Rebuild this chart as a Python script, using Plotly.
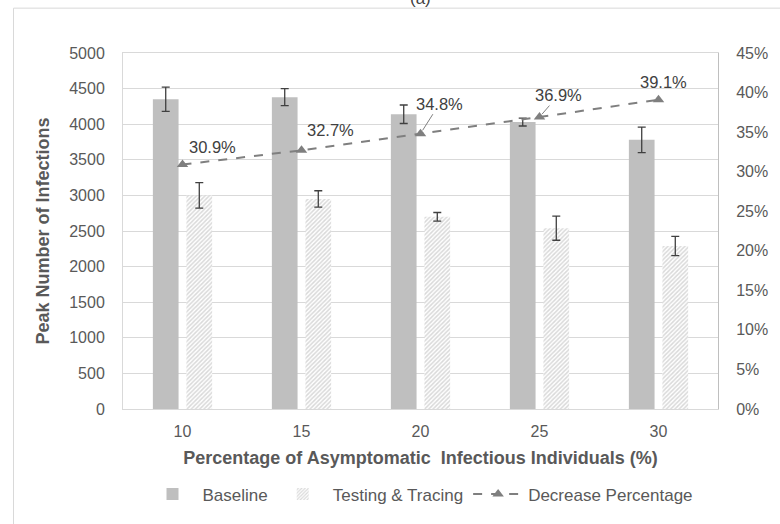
import plotly.graph_objects as go

# data
categories = ["10", "15", "20", "25", "30"]
baseline = [4350, 4380, 4140, 4030, 3780]
baseline_err = [170, 120, 130, 55, 180]
testing = [3000, 2950, 2700, 2540, 2290]
testing_err = [180, 115, 60, 170, 135]
decrease = [0.309, 0.327, 0.348, 0.369, 0.391]
decrease_labels = ["30.9%", "32.7%", "34.8%", "36.9%", "39.1%"]

TEXT = "#595959"
GRID = "#D9D9D9"
FONT = "Liberation Sans, Arial, sans-serif"

fig = go.Figure()

fig.add_trace(go.Bar(
    x=categories, y=baseline, name="Baseline",
    marker=dict(color="#BFBFBF", line=dict(width=0)),
    error_y=dict(type="data", array=baseline_err, color="#404040", thickness=1.3, width=4),
))

fig.add_trace(go.Bar(
    x=categories, y=testing, name="Testing & Tracing",
    marker=dict(color="white", line=dict(width=0),
                pattern=dict(shape="/", fgcolor="#B3B3B3", bgcolor="white", size=3, solidity=0.5)),
    error_y=dict(type="data", array=testing_err, color="#404040", thickness=1.3, width=4),
))

fig.add_trace(go.Scatter(
    x=categories, y=decrease, name="Decrease Percentage", yaxis="y2",
    mode="lines+markers",
    line=dict(color="#7F7F7F", width=2, dash="dash"),
    marker=dict(symbol="triangle-up", size=10, color="#7F7F7F"),
))

# data labels for the decrease line (x given as category index)
label_offsets = [(30, 18, False), (29, 20, False), (19, -30, True), (19, -22, True), (5, 18, False)]
for i, (val, txt, (dx, dy, arrow)) in enumerate(zip(decrease, decrease_labels, label_offsets)):
    if arrow:
        fig.add_annotation(x=i, y=val, yref="y2", text=txt, showarrow=True,
                           ax=dx, ay=dy, arrowhead=0, arrowwidth=1, arrowcolor="#7F7F7F",
                           standoff=4, font=dict(size=16.5, color="#404040"))
    else:
        fig.add_annotation(x=i, y=val, yref="y2", text=txt, showarrow=False,
                           xshift=dx, yshift=dy, font=dict(size=16.5, color="#404040"))

# panel letter, cut by the top edge as in the reference
fig.add_annotation(x=0.5, y=1.154, xref="paper", yref="paper", yanchor="middle",
                   text="(a)", showarrow=False, font=dict(size=17, color="#404040"))

# outer chart frame
fig.add_shape(type="rect", xref="paper", yref="paper", x0=-0.184, x1=1.3, y0=-0.5, y1=1.126,
              line=dict(color=GRID, width=1), layer="below")

fig.update_layout(
    width=780, height=524,
    margin=dict(l=123, r=54, t=53, b=113),
    paper_bgcolor="white", plot_bgcolor="white",
    font=dict(family=FONT, size=16, color=TEXT),
    barmode="group", bargap=0.436, bargroupgap=0.234,
    showlegend=True,
    legend=dict(orientation="h", x=0.5, xanchor="center", y=-0.24, yanchor="middle",
                font=dict(size=17, color=TEXT), itemwidth=50, traceorder="normal"),
    xaxis=dict(
        type="category", range=[-0.5, 4.5],
        title=dict(text="Percentage of Asymptomatic\u00a0 Infectious Individuals (%)",
                   font=dict(size=18, color=TEXT, family=FONT, weight="bold"), standoff=12),
        showline=True, linecolor=GRID, mirror=True, ticks="",
        tickfont=dict(size=16, color=TEXT), ticklabelstandoff=8,
    ),
    yaxis=dict(
        title=dict(text="Peak Number of Infections",
                   font=dict(size=18, color=TEXT, family=FONT, weight="bold"), standoff=14),
        range=[0, 5000], dtick=500, gridcolor=GRID, gridwidth=1,
        showline=True, linecolor=GRID, zeroline=False,
        tickfont=dict(size=16, color=TEXT), ticklabelstandoff=14,
    ),
    yaxis2=dict(
        overlaying="y", side="right", range=[0, 0.45], dtick=0.05, tickformat=".0%",
        showgrid=False, zeroline=False, showline=True, linecolor="#BFBFBF",
        tickfont=dict(size=16, color=TEXT), ticklabelstandoff=14,
    ),
)

# drop the default page margin so the figure sits at the window origin
fig.write_html("out.html", config={"displayModeBar": False},
               post_script="document.body.style.margin='0';")
